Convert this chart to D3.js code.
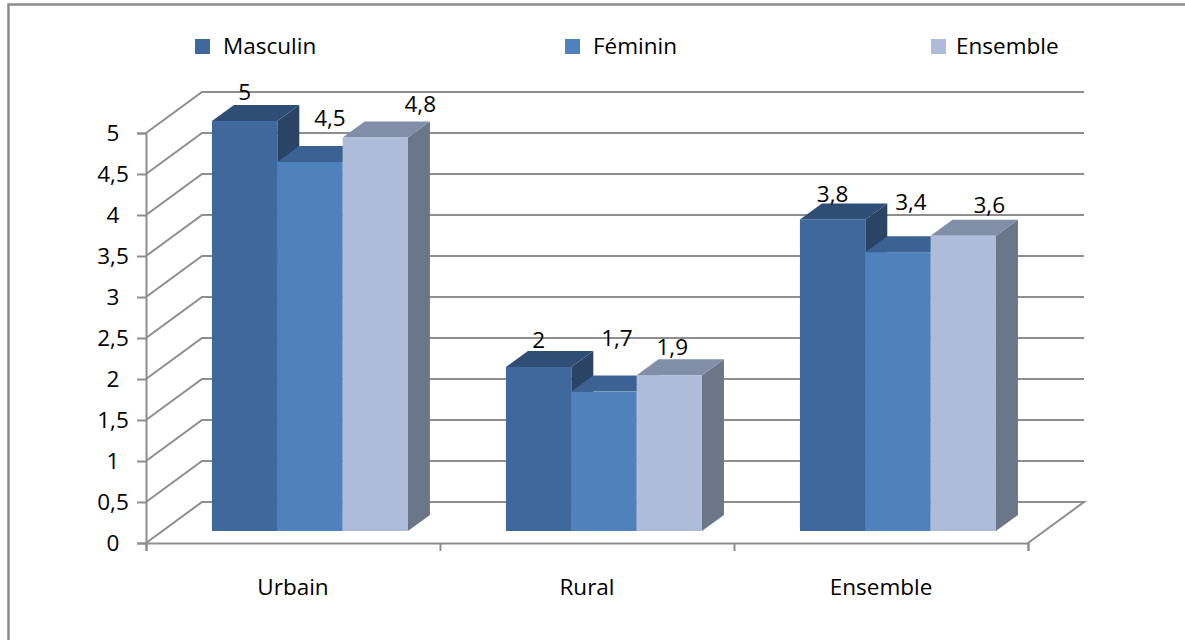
<!DOCTYPE html>
<html>
<head>
<meta charset="utf-8">
<script src="https://cdnjs.cloudflare.com/ajax/libs/d3/7.8.5/d3.min.js"></script>
<style>
  body { margin: 0; background: #fff; }
  text { font-family: "Open Sans", "Noto Sans", sans-serif; fill: #000; }
  .grid { stroke: #8e8e8e; stroke-width: 2; fill: none; }
  .axis path, .axis line { stroke: #8e8e8e; stroke-width: 2; }
  .axis text { font-size: 22.5px; fill: #000; font-family: "Open Sans", "Noto Sans", sans-serif; }
</style>
</head>
<body>
<div id="chart"></div>
<script>
// data
var categories = ["Urbain", "Rural", "Ensemble"];
var seriesNames = ["Masculin", "Féminin", "Ensemble"];
var masculin = [5, 2, 3.8];
var feminin = [4.5, 1.7, 3.4];
var ensemble = [4.8, 1.9, 3.6];
var yTicks = [0, 0.5, 1, 1.5, 2, 2.5, 3, 3.5, 4, 4.5, 5];

var svgWidth = 1185;
var svgHeight = 640;

// front plane of the fake 3d box
var left = 146, right = 1028, bottom = 543, top5 = 133;
var wallDx = 56, wallDy = -41;   // depth of floor and side wall
var barDx = 22, barDy = -16;     // depth of one bar
var barLift = -12;               // bars stand a bit behind the front edge

var colors = [
  { front: "#3f699d", side: "#2b4466", top: "#2f4e76" },
  { front: "#4f81bd", side: "#335480", top: "#3b6292" },
  { front: "#aebbd9", side: "#6b7689", top: "#818ea8" }
];

// label nudges, the labels were placed by hand in the original
var labelNudge = [
  [[0, -29], [20, -44], [45, -33]],
  [[0, -27], [13, -53], [3, -28]],
  [[0, -25], [13, -50], [26, -31]]
];

var legendX = [195, 565, 931];

var svg = d3.select("#chart")
  .append("svg")
  .attr("width", svgWidth)
  .attr("height", svgHeight)
  .style("display", "block");

// frame, only top and left show up in the reference
svg.append("path")
  .attr("d", "M8.5,640V4.5H1185")
  .attr("fill", "none")
  .attr("stroke", "#8a8a8a")
  .attr("stroke-width", 2.5);

var y = d3.scaleLinear().domain([0, 5]).range([bottom, top5]);
var xEdges = d3.scaleLinear().domain([0, 3]).range([left, right]);
// bars sit to the right of the middle of each category, hence the align
var xGroup = d3.scaleBand().domain(categories).range([left, right])
  .paddingInner(1 / 3).paddingOuter(1 / 6).align(0.673);
var xBar = d3.scaleBand().domain(seriesNames).range([0, xGroup.bandwidth()]);
var xLabel = d3.scaleBand().domain(categories).range([left, right]);

// back wall lines and the diagonals to the left wall
yTicks.forEach(function(t) {
  if (t > 0) {
    svg.append("path").attr("class", "grid")
      .attr("d", d3.line()([[left, y(t)], [left + wallDx, y(t) + wallDy], [right + wallDx, y(t) + wallDy]]));
  }
});

// floor
svg.append("path").attr("class", "grid")
  .attr("d", d3.line()([[left, bottom], [left + wallDx, bottom + wallDy], [right + wallDx, bottom + wallDy], [right, bottom]]));

// axes
var yAxis = svg.append("g")
  .attr("class", "axis")
  .attr("transform", "translate(" + left + ",0)")
  .call(d3.axisLeft(y).tickValues(yTicks).tickSize(9)
    .tickFormat(function(d) { return String(d).replace(".", ","); }));
yAxis.selectAll("text").attr("text-anchor", "middle").attr("x", -33);

svg.append("g")
  .attr("class", "axis")
  .attr("transform", "translate(0," + bottom + ")")
  .call(d3.axisBottom(xEdges).tickValues([0, 1, 2, 3]).tickSize(8).tickFormat(""));

var catAxis = svg.append("g")
  .attr("class", "axis")
  .attr("transform", "translate(0," + (bottom + 33) + ")")
  .call(d3.axisBottom(xLabel).tickSize(0));
catAxis.select(".domain").remove();

// bars, left to right so each one overlaps the previous side face
var allSeries = [masculin, feminin, ensemble];

categories.forEach(function(cat, c) {
  seriesNames.forEach(function(name, s) {
    var value = allSeries[s][c];
    var x0 = xGroup(cat) + xBar(name);
    var x1 = x0 + xBar.bandwidth();
    var y0 = y(value) + barLift;
    var y1 = y(0) + barLift;
    var g = svg.append("g");

    g.append("path")
      .attr("fill", colors[s].side)
      .attr("d", d3.line()([[x1, y0], [x1 + barDx, y0 + barDy], [x1 + barDx, y1 + barDy], [x1, y1]]) + "Z");
    g.append("path")
      .attr("fill", colors[s].top)
      .attr("d", d3.line()([[x0, y0], [x0 + barDx, y0 + barDy], [x1 + barDx, y0 + barDy], [x1, y0]]) + "Z");
    g.append("rect")
      .attr("x", x0)
      .attr("y", y0)
      .attr("width", xBar.bandwidth())
      .attr("height", y1 - y0)
      .attr("fill", colors[s].front);
  });
});

// value labels
categories.forEach(function(cat, c) {
  seriesNames.forEach(function(name, s) {
    var value = allSeries[s][c];
    svg.append("text")
      .attr("x", xGroup(cat) + xBar(name) + xBar.bandwidth() / 2 + labelNudge[c][s][0])
      .attr("y", y(value) + barLift + labelNudge[c][s][1])
      .attr("dy", "0.35em")
      .attr("text-anchor", "middle")
      .attr("font-size", 22.5)
      .text(String(value).replace(".", ","));
  });
});

// legend
seriesNames.forEach(function(name, s) {
  svg.append("rect")
    .attr("x", legendX[s])
    .attr("y", 39)
    .attr("width", 15)
    .attr("height", 15)
    .attr("fill", colors[s].front);
  svg.append("text")
    .attr("x", legendX[s] + (s == 2 ? 25 : 28))
    .attr("y", 46)
    .attr("dy", "0.35em")
    .attr("font-size", 22.5)
    .text(name);
});
</script>
</body>
</html>
